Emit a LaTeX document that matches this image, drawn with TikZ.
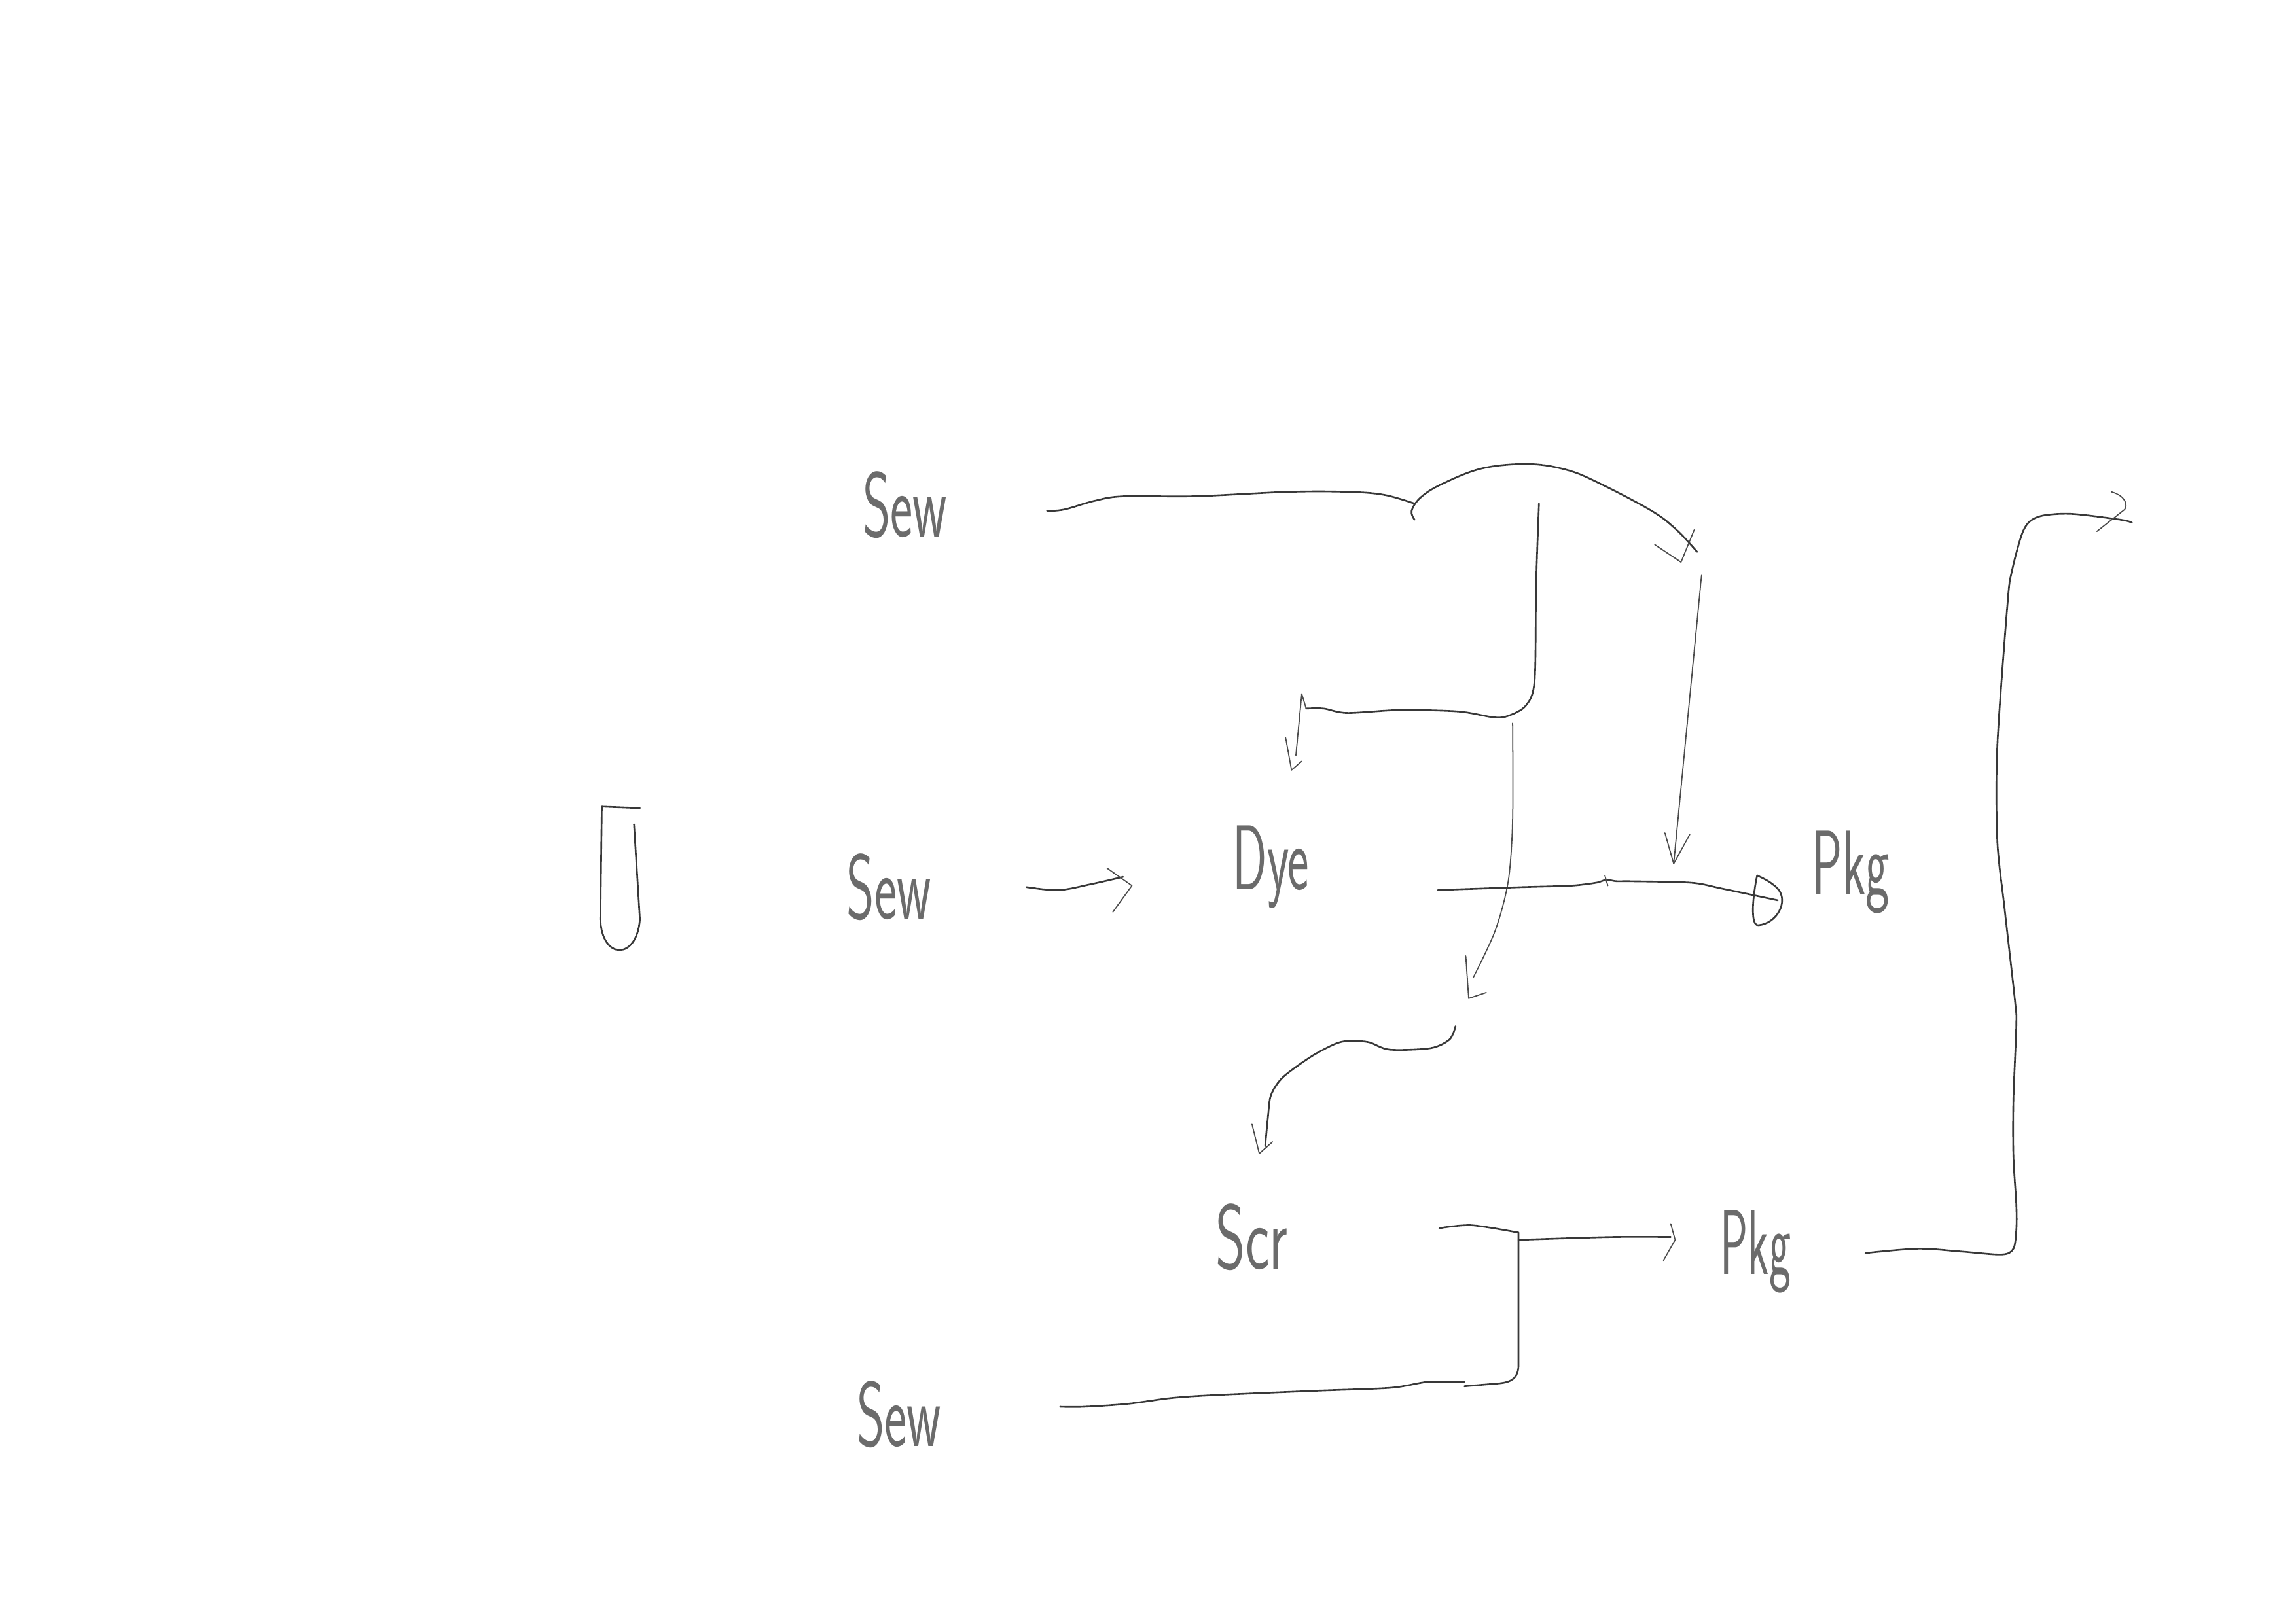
\documentclass[tikz,border=0pt]{standalone}
\usepackage{graphicx}
\begin{document}
\begin{tikzpicture}[x=0.022372cm,y=-0.022372cm,
  ink/.style={draw=black!78,line width=0.75pt,line cap=round,line join=round},
  tipink/.style={draw=black!70,line width=0.5pt,line cap=round,line join=round},
  lbl/.style={inner sep=0pt,text=black!58,font=\sffamily\fontsize{40}{44}\selectfont}]
\useasboundingbox (0,0) rectangle (1568,1109);
\fill[white] (0,0) rectangle (1568,1109);

% labels
\node[lbl] (sewA) at (618,345) {\scalebox{0.58}[1]{Sew}};
\node[lbl] (sewB) at (607,606) {\scalebox{0.58}[1]{Sew}};
\node[lbl] (dye)  at (868,592) {\scalebox{0.55}[1]{Dye}};
\node[lbl] (pkgA) at (1264,596) {\scalebox{0.55}[1]{Pkg}};
\node[lbl] (scr)  at (855,845) {\scalebox{0.62}[1]{Scr}};
\node[lbl] (pkgB) at (1199,855) {\scalebox{0.5}[1]{Pkg}};
\node[lbl] (sewC) at (614,966) {\scalebox{0.58}[1]{Sew}};

% left U shape
\draw[ink] (437,552) -- (411,551) -- (410,628)
  .. controls (411,656) and (435,656) .. (437,628) -- (433,563);

% named connector ends
\coordinate (a1) at (715,349);
\coordinate (b1) at (701,606);
\coordinate (c1) at (982,608);
\coordinate (s1) at (983,839);
\coordinate (p1) at (1274,856);
\coordinate (w1) at (724,961);

% Sew (top) line
\draw[ink] plot[smooth,tension=0.6] coordinates {(a1) (727,348) (748,342) (768,339) (816,339) (880,336) (920,336) (945,338) (966,344)};
% arc to right column
\draw[ink] plot[smooth,tension=0.6] coordinates {(966,355) (964,349) (970,340) (984,331) (1012,320) (1044,317) (1070,321) (1092,330) (1128,349) (1145,362) (1159,377)};
\draw[tipink] (1130,372) -- (1148,384) -- (1157,362);

% vertical + left arrow to Dye
\draw[ink] plot[smooth,tension=0.5] coordinates {(1051,344) (1049,400) (1048,465) (1042,482) (1030,489) (1020,490) (996,486) (956,485) (920,487) (904,484) (892,484)};
\draw[tipink] (892,484) -- (889,474) -- (885,516);
\draw[tipink] (878,504) -- (882,526) -- (889,520);

% vertical down to lower curve
\draw[tipink] plot[smooth,tension=0.5] coordinates {(1033,494) (1033,560) (1030,602) (1021,636) (1006,668)};
\draw[tipink] (1001,653) -- (1003,682) -- (1015,678);

% right vertical arrow down to Pkg line
\draw[tipink] (1162,393) -- (1143,590);
\draw[tipink] (1137,569) -- (1143,590) -- (1154,570);

% Dye -> Pkg line with D-shaped head
\draw[ink] plot[smooth,tension=0.5] coordinates {(c1) (1040,606) (1073,605) (1090,603) (1097,601) (1104,602) (1114,602) (1155,603) (1176,607) (1214,615)};
\draw[tipink] (1096,598) -- (1098,605);
\draw[ink] (1200,598) .. controls (1197,612) and (1195,633) .. (1201,632)
  .. controls (1213,631) and (1222,616) .. (1214,607)
  .. controls (1209,602) and (1204,600) .. (1200,598);

% Sew (middle) -> Dye
\draw[ink] plot[smooth,tension=0.6] coordinates {(b1) (723,608) (745,604) (767,599)};
\draw[tipink] (756,593) -- (773,605) -- (760,623);

% curve down to Scr
\draw[ink] plot[smooth,tension=0.5] coordinates {(994,701) (990,710) (977,716) (949,717) (935,712) (922,711) (912,713) (895,722) (876,736) (868,748) (866,762) (864,783)};
\draw[tipink] (855,768) -- (860,788) -- (869,780);

% Scr -> bracket -> Pkg
\draw[ink] plot[smooth,tension=0.5] coordinates {(s1) (1005,837) (1037,842)};
\draw[ink] (1037,842) -- (1037,932) .. controls (1037,941) and (1033,944) .. (1024,945) -- (1000,947);
\draw[ink] plot[smooth,tension=0.5] coordinates {(1037,847) (1067,846) (1103,845) (1141,845)};
\draw[tipink] (1141,836) -- (1144,847) -- (1136,861);

% Sew (bottom) line
\draw[ink] plot[smooth,tension=0.5] coordinates {(w1) (740,961) (770,959) (800,955) (830,953) (900,950) (950,948) (975,944) (1000,944)};

% Pkg (lower) -> up -> right
\draw[ink] plot[smooth,tension=0.5] coordinates {(p1) (1310,853) (1340,855) (1367,857) (1375,853) (1377,840) (1377,823) (1375,790) (1375,751) (1377,700) (1376,683) (1369,621) (1364,574) (1364,510) (1371,412) (1374,390) (1382,362) (1392,353) (1414,351) (1448,355) (1456,357)};
\draw[tipink] (1442,336) .. controls (1452,339) and (1453,345) .. (1451,348) -- (1432,363);
\end{tikzpicture}
\end{document}
